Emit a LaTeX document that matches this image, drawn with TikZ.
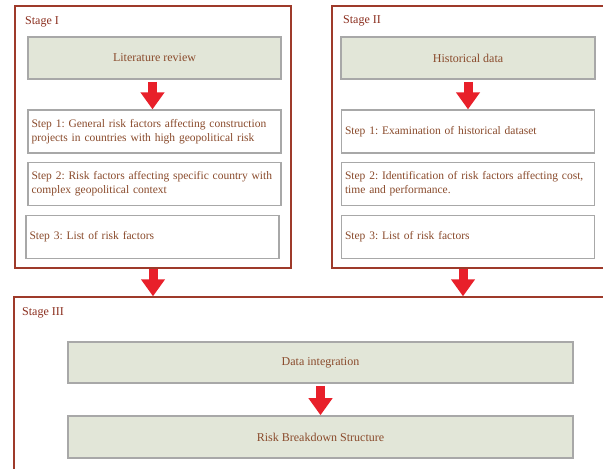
\documentclass[tikz,border=0pt]{standalone}
\usepackage{fontspec}
\setmainfont{Liberation Serif}
\usetikzlibrary{arrows.meta}
\definecolor{frame}{HTML}{9E3A2A}
\definecolor{txt}{HTML}{8A4B2C}
\definecolor{stg}{HTML}{8B2E1E}
\definecolor{boxedge}{HTML}{A8A8A8}
\definecolor{shade}{HTML}{E2E6D8}
\definecolor{arr}{HTML}{E8202A}
\frenchspacing
\begin{document}
\begin{tikzpicture}[x=1pt,y=-1pt,
  every node/.style={font=\fontsize{12}{14}\selectfont},
  stageframe/.style={draw=frame, line width=1.4pt, rectangle, inner sep=0pt},
  stagelabel/.style={anchor=west, text=stg, inner sep=0pt},
  headbox/.style={draw=boxedge, line width=1.6pt, fill=shade, text=txt, inner sep=0pt, minimum height=42pt},
  stepbox/.style={draw=boxedge, line width=1.3pt, fill=white, text=txt, align=left, text width=246pt, inner sep=3.5pt, minimum height=43pt, font=\fontsize{11.5}{14}\selectfont\frenchspacing},
  bigarrow/.style={draw=arr, line width=9pt, -{Triangle[width=23pt,length=17pt]}}
]
\useasboundingbox (0,0) rectangle (603,469);
\clip (0,0) rectangle (603,469);
\fill[white] (0,0) rectangle (603,469);

% stage frames
\node[stageframe, minimum width=276pt, minimum height=262pt] (st1) at (153,137) {};
\node[stageframe, minimum width=288pt, minimum height=262pt] (st2) at (476,137) {};
\node[stageframe, minimum width=606pt, minimum height=183pt] (st3) at (317,388.5) {};

\node[stagelabel] (l1) at (25,22) {Stage I};
\node[stagelabel] (l2) at (343,21) {Stage II};
\node[stagelabel] (l3) at (22,313) {Stage III};

% Stage I
\node[headbox, minimum width=253pt] (lit) at (154.5,58) {Literature review};
\node[stepbox] (a1) at (154.5,131.5) {Step 1: General risk factors affecting construction projects in countries with high geopolitical risk};
\node[stepbox] (a2) at (154.5,184) {Step 2: Risk factors affecting specific country with complex geopolitical context};
\node[stepbox] (a3) at (152.5,237) {Step 3: List of risk factors};

% Stage II
\node[headbox, minimum width=254pt] (hist) at (468,58) {Historical data};
\node[stepbox] (b1) at (468,131.5) {Step 1: Examination of historical dataset};
\node[stepbox] (b2) at (468,184) {Step 2: Identification of risk factors affecting cost, time and performance.};
\node[stepbox] (b3) at (468,237) {Step 3: List of risk factors};

% Stage III
\node[headbox, minimum width=505pt, minimum height=41pt] (di) at (320.5,362.5) {Data integration};
\node[headbox, minimum width=505pt] (rbs) at (320.5,437) {Risk Breakdown Structure};

% arrows
\draw[bigarrow, shorten <=2pt] ([xshift=-2pt]lit.south) -- ([xshift=-2pt]lit.south |- a1.north);
\draw[bigarrow, shorten <=2pt] (hist.south) -- (hist.south |- b1.north);
\draw[bigarrow] (st1.south) -- (st1.south |- st3.north);
\coordinate (c2) at ([xshift=-5pt]hist.south |- st2.south);
\draw[bigarrow] (c2) -- (c2 |- st3.north);
\draw[bigarrow, shorten <=2pt] (di.south) -- (rbs.north);
\end{tikzpicture}
\end{document}
